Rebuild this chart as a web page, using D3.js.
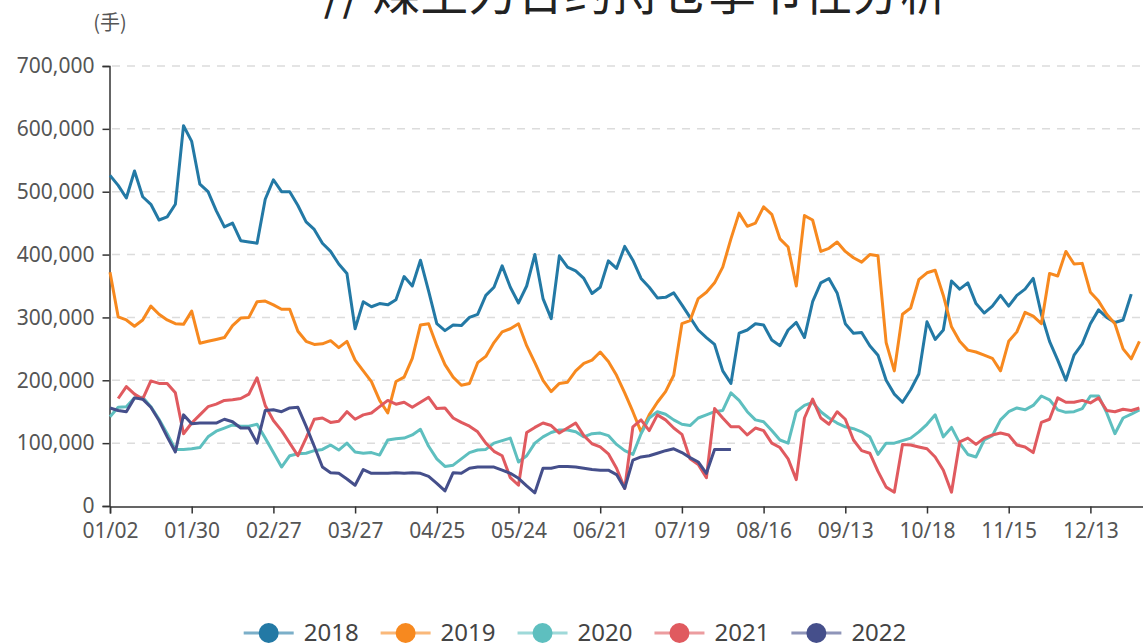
<!DOCTYPE html>
<html>
<head>
<meta charset="utf-8">
<script src="https://cdn.jsdelivr.net/npm/d3@7"></script>
<style>
  body { margin: 0; background: #fff; overflow: hidden; }
</style>
</head>
<body>
<div id="chart"></div>
<script>
var title = "// 煤主力合约持仓季节性分析";
var unitLabel = "(手)";
var years = ["2018", "2019", "2020", "2021", "2022"];
var colors = ["#2379a5", "#f7891f", "#5ebfbf", "#e05a5f", "#454f8b"];

// one label every 20 trading days (= every 10 samples below)
var xLabels = ["01/02", "01/30", "02/27", "03/27", "04/25", "05/24", "06/21",
               "07/19", "08/16", "09/13", "10/18", "11/15", "12/13"];
var yTicks = [0, 100, 200, 300, 400, 500, 600, 700]; // thousands of lots

// open interest, thousands of lots, one value every 2 trading days
var v2018 = [526,510,490,533,492,480,455,460,480,605,
             580,512,500,470,444,450,422,420,418,488,
             519,500,500,478,452,440,418,405,385,370,
             282,325,317,322,320,328,365,350,391,342,
             290,279,288,287,300,305,335,348,382,348,
             323,350,400,330,298,398,380,374,362,338,
             348,390,378,413,391,362,348,331,332,339,
             320,300,280,268,257,215,195,275,280,290,
             288,264,255,280,292,268,325,355,362,339,
             290,275,276,255,240,200,178,165,185,210,
             293,265,280,358,345,355,322,307,318,335,
             318,335,345,362,305,262,232,200,240,258,
             290,312,300,292,296,337];
var v2019 = [372,301,296,286,296,318,305,296,290,289,
             310,259,262,265,268,287,299,300,325,326,
             320,313,313,278,262,257,258,263,252,262,
             232,215,198,168,148,198,205,235,288,290,
             255,225,205,192,195,228,238,260,277,282,
             290,255,228,200,182,195,197,215,227,232,
             245,230,208,180,150,118,145,165,182,208,
             290,295,330,340,355,380,425,466,445,450,
             476,464,425,412,350,462,455,405,410,420,
             405,395,388,400,398,260,215,305,315,360,
             371,375,335,285,262,248,245,240,235,215,
             262,277,308,302,290,370,366,405,385,386,
             340,326,305,290,250,234,262];
var v2020 = [142,157,158,172,173,158,138,115,90,90,
             91,93,110,119,124,129,127,127,130,108,
             85,62,80,83,84,88,90,97,89,100,
             86,84,85,81,105,107,108,113,122,95,
             75,63,65,75,85,89,90,100,104,108,
             70,80,100,110,117,121,121,118,110,115,
             116,112,98,88,82,115,140,150,146,137,
             130,128,140,145,150,152,180,168,150,137,
             134,120,105,100,150,160,165,150,140,132,
             126,123,118,110,82,100,100,104,108,118,
             130,145,110,125,100,82,78,105,112,137,
             150,156,153,160,175,169,153,149,150,155,
             175,175,148,115,140,146,153];
var v2021 = [null,171,190,178,170,199,195,195,180,115,
             132,145,158,162,168,169,171,178,204,160,
             136,120,100,80,108,138,140,133,135,150,
             138,145,148,158,168,162,165,157,165,173,
             155,156,140,133,127,118,100,87,80,45,
             33,117,125,132,128,116,124,132,112,99,
             94,83,60,28,126,137,120,145,137,124,
             114,75,66,45,155,140,126,126,113,124,
             120,100,93,75,42,140,170,140,130,150,
             138,105,88,84,55,30,22,98,97,94,
             91,78,57,22,102,108,98,108,113,116,
             113,97,94,85,133,138,172,165,165,168,
             164,172,152,150,154,152,156];
var v2022 = [156,152,150,172,170,157,136,110,86,145,
             131,132,132,132,138,134,124,124,100,152,
             153,150,156,157,127,95,62,53,52,43,
             33,58,52,52,52,53,52,53,52,47,
             36,24,53,52,60,62,62,62,57,52,
             44,32,21,60,60,63,63,62,60,58,
             57,57,50,28,73,78,80,84,88,91,
             85,77,70,52,90,90,90];
var seriesValues = [v2018, v2019, v2020, v2021, v2022];

var width = 1143, height = 644;
var axisFont = "'Noto Sans', sans-serif";

var svg = d3.select("#chart")
    .append("svg")
    .attr("width", width)
    .attr("height", height)

var x = d3.scaleLinear().domain([0, 126.5]).range([110, 1143.5])
var y = d3.scaleLinear().domain([0, 700]).range([506, 66])

// title, mostly above the top edge
svg.append("text")
    .attr("x", 636)
    .attr("y", 10)
    .attr("text-anchor", "middle")
    .style("font-family", "'Noto Sans CJK SC', sans-serif")
    .style("font-size", "48px")
    .attr("fill", "#222")
    .text(title)

svg.append("text")
    .attr("x", 110)
    .attr("y", 30)
    .attr("text-anchor", "middle")
    .style("font-family", "'Noto Sans CJK SC', sans-serif")
    .style("font-size", "20px")
    .attr("fill", "#555")
    .text(unitLabel)

// dashed grid
svg.append("g")
    .selectAll("line")
    .data(yTicks.filter(d => d > 0))
    .enter()
    .append("line")
    .attr("x1", 112)
    .attr("x2", width)
    .attr("y1", d => y(d))
    .attr("y2", d => y(d))
    .attr("stroke", "#dcdcdc")
    .attr("stroke-width", 1.5)
    .attr("stroke-dasharray", "8,7")

// y axis
var yAxis = svg.append("g")
    .attr("transform", "translate(109.5,0)")
    .call(d3.axisLeft(y).tickValues(yTicks).tickSize(7).tickPadding(8)
        .tickFormat(d => d3.format(",")(d * 1000)))
yAxis.select(".domain").attr("stroke", "#333").attr("stroke-width", 1.5)
yAxis.selectAll(".tick line").attr("stroke", "#333").attr("stroke-width", 1.5)
yAxis.selectAll("text")
    .style("font-family", axisFont)
    .style("font-size", "21px")
    .attr("fill", "#555")

// x axis
var xAxis = svg.append("g")
    .attr("transform", "translate(0,506.5)")
    .call(d3.axisBottom(x).tickValues(xLabels.map((d, i) => i * 10)).tickSize(7).tickPadding(10)
        .tickFormat((d, i) => xLabels[i]))
xAxis.select(".domain").attr("stroke", "#333").attr("stroke-width", 1.5)
xAxis.selectAll(".tick line").attr("stroke", "#333").attr("stroke-width", 1.5)
xAxis.selectAll("text")
    .style("font-family", axisFont)
    .style("font-size", "21px")
    .attr("fill", "#555")

// the lines
var line = d3.line()
    .defined(d => d != null)
    .x((d, i) => x(i))
    .y(d => y(d))

svg.append("g")
    .selectAll("path")
    .data(seriesValues)
    .enter()
    .append("path")
    .attr("d", d => line(d))
    .attr("fill", "none")
    .attr("stroke", (d, i) => colors[i])
    .attr("stroke-width", 3)
    .attr("stroke-linejoin", "round")

// legend at the bottom, centred
var legend = svg.append("g")
var legendY = 633
var items = legend.selectAll("g")
    .data(years)
    .enter()
    .append("g")
items.append("line")
    .attr("x1", 0).attr("x2", 50)
    .attr("y1", legendY).attr("y2", legendY)
    .attr("stroke", (d, i) => colors[i])
    .attr("stroke-opacity", 0.6)
    .attr("stroke-width", 3)
items.append("circle")
    .attr("cx", 25).attr("cy", legendY).attr("r", 10)
    .attr("fill", (d, i) => colors[i])
items.append("text")
    .attr("x", 60)
    .attr("y", legendY + 8)
    .style("font-family", axisFont)
    .style("font-size", "24px")
    .attr("fill", "#444")
    .text(d => d)

var offsets = [], pos = 0
items.each(function () {
    offsets.push(pos)
    pos += 60 + this.querySelector("text").getComputedTextLength() + 22
})
var startX = 575 - (pos - 22) / 2
items.attr("transform", (d, i) => "translate(" + (startX + offsets[i]) + ",0)")
</script>
</body>
</html>
